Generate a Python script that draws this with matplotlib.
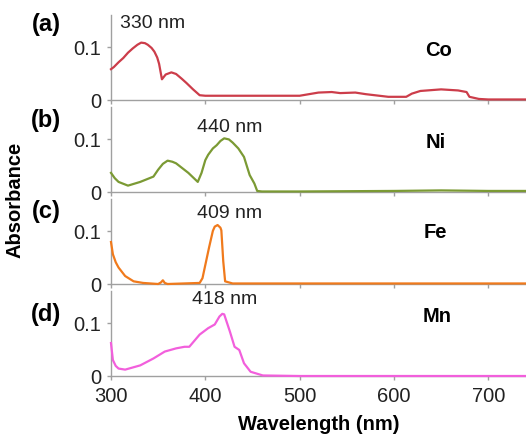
import matplotlib
matplotlib.use("Agg")
import matplotlib.pyplot as plt

plt.rcParams['font.family'] = ['Liberation Sans', 'DejaVu Sans']

# spectra (wavelength nm, absorbance)
wl_co = [300, 303, 308, 313, 318, 323, 328, 332, 336, 339, 343, 346, 349, 351, 354, 358, 364,
         369, 375, 380, 387, 394, 400, 450, 500, 510, 520, 534, 543, 559, 570, 594, 613, 619,
         628, 650, 668, 677, 680, 690, 700, 740]
abs_co = [0.058, 0.062, 0.071, 0.079, 0.089, 0.097, 0.104, 0.108, 0.107, 0.104, 0.098, 0.091,
          0.080, 0.068, 0.039, 0.048, 0.052, 0.049, 0.040, 0.032, 0.020, 0.009, 0.008, 0.008,
          0.008, 0.011, 0.014, 0.015, 0.013, 0.014, 0.011, 0.006, 0.006, 0.012, 0.017, 0.020,
          0.018, 0.015, 0.006, 0.002, 0.001, 0.001]

wl_ni = [300, 304, 308, 318, 331, 345, 350, 355, 360, 365, 369, 382, 392, 396, 400, 403, 408,
         412, 416, 420, 425, 429, 435, 441, 447, 452, 455, 460, 500, 600, 650, 700, 740]
abs_ni = [0.036, 0.026, 0.019, 0.012, 0.019, 0.029, 0.042, 0.053, 0.059, 0.057, 0.054, 0.036,
          0.019, 0.036, 0.060, 0.070, 0.082, 0.088, 0.096, 0.101, 0.099, 0.093, 0.082, 0.066,
          0.032, 0.016, 0.002, 0.001, 0.001, 0.002, 0.003, 0.002, 0.002]

wl_fe = [300, 302, 305, 308, 315, 324, 334, 350, 353, 355, 357, 360, 394, 397, 404, 408, 410,
         413, 416, 417, 419, 421, 429, 500, 740]
abs_fe = [0.079, 0.056, 0.041, 0.031, 0.015, 0.005, 0.002, 0.0, 0.003, 0.007, 0.002, 0.0, 0.002,
          0.011, 0.069, 0.100, 0.108, 0.111, 0.106, 0.101, 0.043, 0.005, 0.001, 0.001, 0.001]

wl_mn = [300, 302, 305, 308, 315, 331, 345, 357, 369, 378, 383, 394, 403, 410, 415, 418, 420,
         423, 426, 431, 436, 441, 448, 461, 500, 740]
abs_mn = [0.062, 0.030, 0.019, 0.014, 0.012, 0.020, 0.033, 0.046, 0.052, 0.055, 0.055, 0.078,
          0.090, 0.097, 0.112, 0.117, 0.116, 0.100, 0.084, 0.055, 0.049, 0.024, 0.008, 0.001,
          0.0, 0.0]

panels = ['(a)', '(b)', '(c)', '(d)']
metals = ['Co', 'Ni', 'Fe', 'Mn']
peaks = ['330 nm', '440 nm', '409 nm', '418 nm']
colors = ['#cc3d4a', '#7b9a34', '#f07a1c', '#f25fdc']
xticks = [300, 400, 500, 600, 700]

series = [(wl_co, abs_co), (wl_ni, abs_ni), (wl_fe, abs_fe), (wl_mn, abs_mn)]

W, H = 526, 435
fig = plt.figure(figsize=(W / 100, H / 100), dpi=100)

zero_px = [101, 193, 285, 377]      # pixel row of the baseline of each panel
peak_pos = [(153, 23), (230, 127), (230, 214), (225, 300)]
panel_pos = [(46, 24), (46, 121), (46, 212), (46, 315)]
metal_pos = [(438, 51), (436, 143), (435, 233), (437, 317)]
gray = '#a0a0a0'

for i in range(4):
    ax = fig.add_axes([111 / W, 1 - zero_px[i] / H, (W - 111) / W, 85 / H])
    x, y = series[i]
    ax.plot(x, y, color=colors[i], lw=1.6, clip_on=False, zorder=3)
    ax.set_xlim(300, 740)
    ax.set_ylim(0, 0.16)
    ax.set_yticks([0, 0.1])
    ax.set_yticklabels(['0', '0.1'])
    ax.set_xticks(xticks)
    for s in ['top', 'right']:
        ax.spines[s].set_visible(False)
    for s in ['left', 'bottom']:
        ax.spines[s].set_color(gray)
        ax.spines[s].set_linewidth(1)
    ax.tick_params(axis='both', color=gray, length=3, width=1, labelsize=14.5, pad=4,
                   labelcolor='#222222')
    if i < 3:
        ax.tick_params(axis='x', labelbottom=False)
    else:
        ax.tick_params(axis='x', pad=4)
        ax.set_xlabel('Wavelength (nm)', fontsize=14.5, fontweight='bold', labelpad=7)

    fig.text(peak_pos[i][0] / W, 1 - peak_pos[i][1] / H, peaks[i], fontsize=14,
             ha='center', va='center', color='#222222')
    fig.text(panel_pos[i][0] / W, 1 - panel_pos[i][1] / H, panels[i], fontsize=17,
             fontweight='bold', ha='center', va='center')
    fig.text(metal_pos[i][0] / W, 1 - metal_pos[i][1] / H, metals[i], fontsize=14.5,
             fontweight='bold', ha='center', va='center')

fig.text(15 / W, 1 - 200 / H, 'Absorbance', fontsize=14.5, fontweight='bold',
         rotation=90, ha='center', va='center')

fig.savefig('out.png', dpi=100)
